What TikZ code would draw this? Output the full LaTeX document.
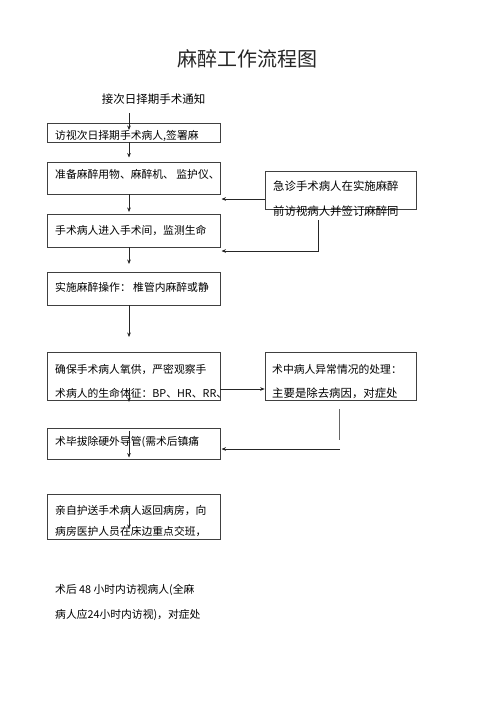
\documentclass[tikz,border=0pt]{standalone}
\usepackage{fontspec}
\setmainfont{Noto Sans CJK SC}
\usetikzlibrary{arrows.meta}
\begin{document}
\begin{tikzpicture}[x=1pt,y=-1pt,
 box/.style={draw=black!75,line width=0.7pt,inner sep=0pt},
 lbox/.style={box,minimum width=173pt},
 rbox/.style={box,minimum width=151pt},
 txt/.style={anchor=west,inner sep=0pt,font=\fontsize{10.8}{12}\selectfont},
 arr/.style={draw=black!85,line width=0.6pt,-{Stealth[length=4.5pt,width=3.6pt]}},
 ln/.style={draw=black!60,line width=0.6pt}]
\useasboundingbox (0,0) rectangle (496,702);
% title and first text
\node[inner sep=0pt,text=black!85,font=\fontsize{20}{24}\selectfont] (title) at (247,58.5) {麻醉工作流程图};
\node[inner sep=0pt,font=\fontsize{11.5}{13}\selectfont] (t0) at (153.5,99) {接次日择期手术通知};
% left column boxes
\node[lbox,minimum height=19pt] (b1) at (133.5,132.5) {};
\node[txt] (t1) at (55,136) {访视次日择期手术病人,签署麻};
\node[lbox,minimum height=32pt] (b2) at (133.5,178) {};
\node[txt] (t2) at (55,174) {准备麻醉用物、麻醉机、 监护仪、};
\node[lbox,minimum height=33pt] (b3) at (133.5,230.5) {};
\node[txt] (t3) at (55,230) {手术病人进入手术间，监测生命};
\node[lbox,minimum height=33pt] (b4) at (133.5,288.5) {};
\node[txt] (t4) at (55,287.5) {实施麻醉操作： 椎管内麻醉或静};
\node[lbox,minimum height=48pt] (b5) at (133.5,376) {};
\node[txt] (t5a) at (55,369) {确保手术病人氧供，严密观察手};
\node[txt] (t5b) at (55,393) {术病人的生命体征：BP、HR、RR、};
\node[lbox,minimum height=31pt] (b6) at (133.5,443.5) {};
\node[txt] (t6) at (55,441.5) {术毕拔除硬外导管(需术后镇痛};
\node[lbox,minimum height=45pt] (b7) at (133.5,516.5) {};
\node[txt] (t7a) at (55,510.5) {亲自护送手术病人返回病房，向};
\node[txt] (t7b) at (55,531.5) {病房医护人员在床边重点交班，};
\node[txt] (t8a) at (55,590) {术后 48 小时内访视病人(全麻};
\node[txt] (t8b) at (55,615) {病人应24小时内访视)，对症处};
% right boxes
\node[rbox,minimum height=38pt] (r1) at (340.5,190) {};
\node[txt,font=\fontsize{11.4}{13}\selectfont] (r1a) at (273,186) {急诊手术病人在实施麻醉};
\node[txt,font=\fontsize{11.4}{13}\selectfont] (r1b) at (273,211.5) {前访视病人并签订麻醉同};
\node[rbox,minimum height=48pt] (r2) at (340.5,376) {};
\node[txt] (r2a) at (272,369) {术中病人异常情况的处理：};
\node[txt,font=\fontsize{11.4}{13}\selectfont] (r2b) at (272,393) {主要是除去病因，对症处};
% coordinates
\coordinate (a1s) at (129,113); \coordinate (a1e) at (129,130);
\coordinate (a2e) at (129,157.5);
\coordinate (a3e) at (129,212);
\coordinate (a6e) at (129,264);
\coordinate (a7e) at (129,337);
\coordinate (a9s) at (129,388); \coordinate (a9e) at (129,402);
\coordinate (a11s) at (129,431); \coordinate (a11e) at (129,457.5);
\coordinate (a12s) at (129,508); \coordinate (a12e) at (129,529);
\coordinate (a4e) at (221.5,199);
\coordinate (a5s) at (318,220); \coordinate (a5c) at (318,251); \coordinate (a5e) at (221.5,251);
\coordinate (l1s) at (339.5,409); \coordinate (l1e) at (339.5,440);
\coordinate (a10s) at (340,449); \coordinate (a10e) at (221.5,449);
% connectors
\draw[arr] (a1s) -- (a1e);
\draw[arr] (b1.south -| a1s) -- (a2e);
\draw[arr] (b2.south -| a1s) -- (a3e);
\draw[arr] (r1.west |- a4e) -- (a4e);
\draw[arr] (a5s) -- (a5c) -- (a5e);
\draw[arr] (b3.south -| a1s) -- (a6e);
\draw[arr] (b4.south -| a1s) -- (a7e);
\draw[arr] (b5.east |- 0,389) -- (r2.west |- 0,389);
\draw[arr] (a9s) -- (a9e);
\draw[ln] (l1s) -- (l1e);
\draw[arr] (a10s) -- (a10e);
\draw[arr] (a11s) -- (a11e);
\draw[arr] (a12s) -- (a12e);
\end{tikzpicture}
\end{document}
